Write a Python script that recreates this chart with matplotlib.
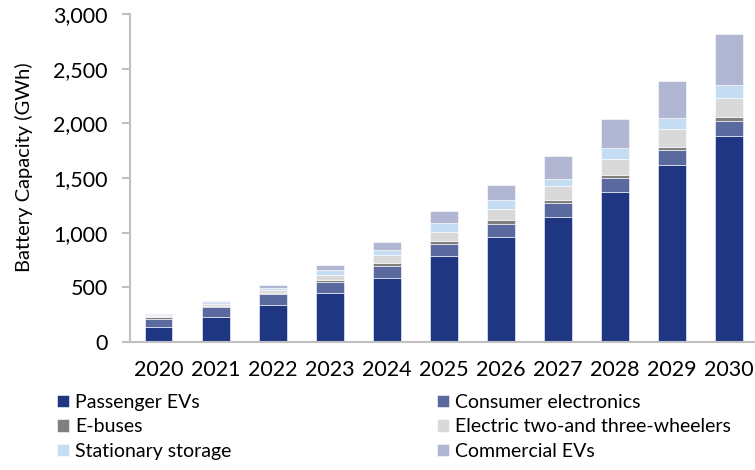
import numpy as np
import matplotlib.pyplot as plt

plt.rcParams["font.family"] = ["Lato", "DejaVu Sans"]

years = ["2020", "2021", "2022", "2023", "2024", "2025", "2026", "2027", "2028", "2029", "2030"]
passenger_evs = [135, 229, 338, 447, 589, 784, 962, 1147, 1371, 1623, 1889]
consumer_electronics = [80, 91, 97, 100, 109, 114, 118, 121, 127, 136, 136]
e_buses = [12, 12, 18, 24, 27, 27, 34, 27, 31, 27, 34]
two_three_wheelers = [10, 18, 24, 45, 70, 86, 106, 134, 146, 161, 170]
stationary_storage = [8, 12, 21, 40, 43, 78, 75, 66, 102, 100, 121]
commercial_evs = [12, 15, 25, 46, 73, 106, 146, 203, 267, 342, 466]

series = [
    ("Passenger EVs", passenger_evs, "#1f3682"),
    ("Consumer electronics", consumer_electronics, "#5a6a9e"),
    ("E-buses", e_buses, "#7f7f7f"),
    ("Electric two-and three-wheelers", two_three_wheelers, "#d9d9d9"),
    ("Stationary storage", stationary_storage, "#c5ddf2"),
    ("Commercial EVs", commercial_evs, "#b1b7d3"),
]

fig = plt.figure(figsize=(7.55, 4.70), dpi=100)
ax = fig.add_axes([0.1722, 0.2723, 0.8278, 0.6977])

x = np.arange(len(years))
bottom = np.zeros(len(years))
handles = {}
for name, vals, color in series:
    vals = np.array(vals, dtype=float)
    b = ax.bar(x, vals, width=0.49, bottom=bottom, color=color,
               edgecolor="white", linewidth=0.4, label=name)
    handles[name] = b
    bottom += vals

ax.set_xlim(-0.5, 10.46)
ax.set_ylim(0, 3000)
ax.set_yticks(np.arange(0, 3001, 500))
ax.set_yticklabels([f"{v:,}" for v in range(0, 3001, 500)], fontsize=15.5)
ax.set_xticks(x)
ax.set_xticklabels(years, fontsize=15.5)
ax.set_ylabel("Battery Capacity (GWh)", fontsize=14.5)
ax.yaxis.set_label_coords(-0.155, 0.532)

for side in ["top", "right"]:
    ax.spines[side].set_visible(False)
for side in ["left", "bottom"]:
    ax.spines[side].set_color("#c0c0c0")
    ax.spines[side].set_linewidth(1.5)
ax.tick_params(axis="y", color="#c0c0c0", width=1.5, length=6, pad=10)
ax.tick_params(axis="x", length=0, pad=13)

# two legend columns placed separately, like the original
col1 = ["Passenger EVs", "E-buses", "Stationary storage"]
col2 = ["Consumer electronics", "Electric two-and three-wheelers", "Commercial EVs"]
leg_kw = dict(frameon=False, loc="upper left", fontsize=14, borderpad=0,
              handlelength=0.62, handleheight=0.62, handletextpad=0.3,
              labelspacing=0.39, borderaxespad=0)
fig.legend([handles[n] for n in col1], col1,
           bbox_to_anchor=(57 / 755, 0.162), **leg_kw)
fig.legend([handles[n] for n in col2], col2,
           bbox_to_anchor=(437 / 755, 0.162), **leg_kw)

fig.savefig("out.png", dpi=100)
